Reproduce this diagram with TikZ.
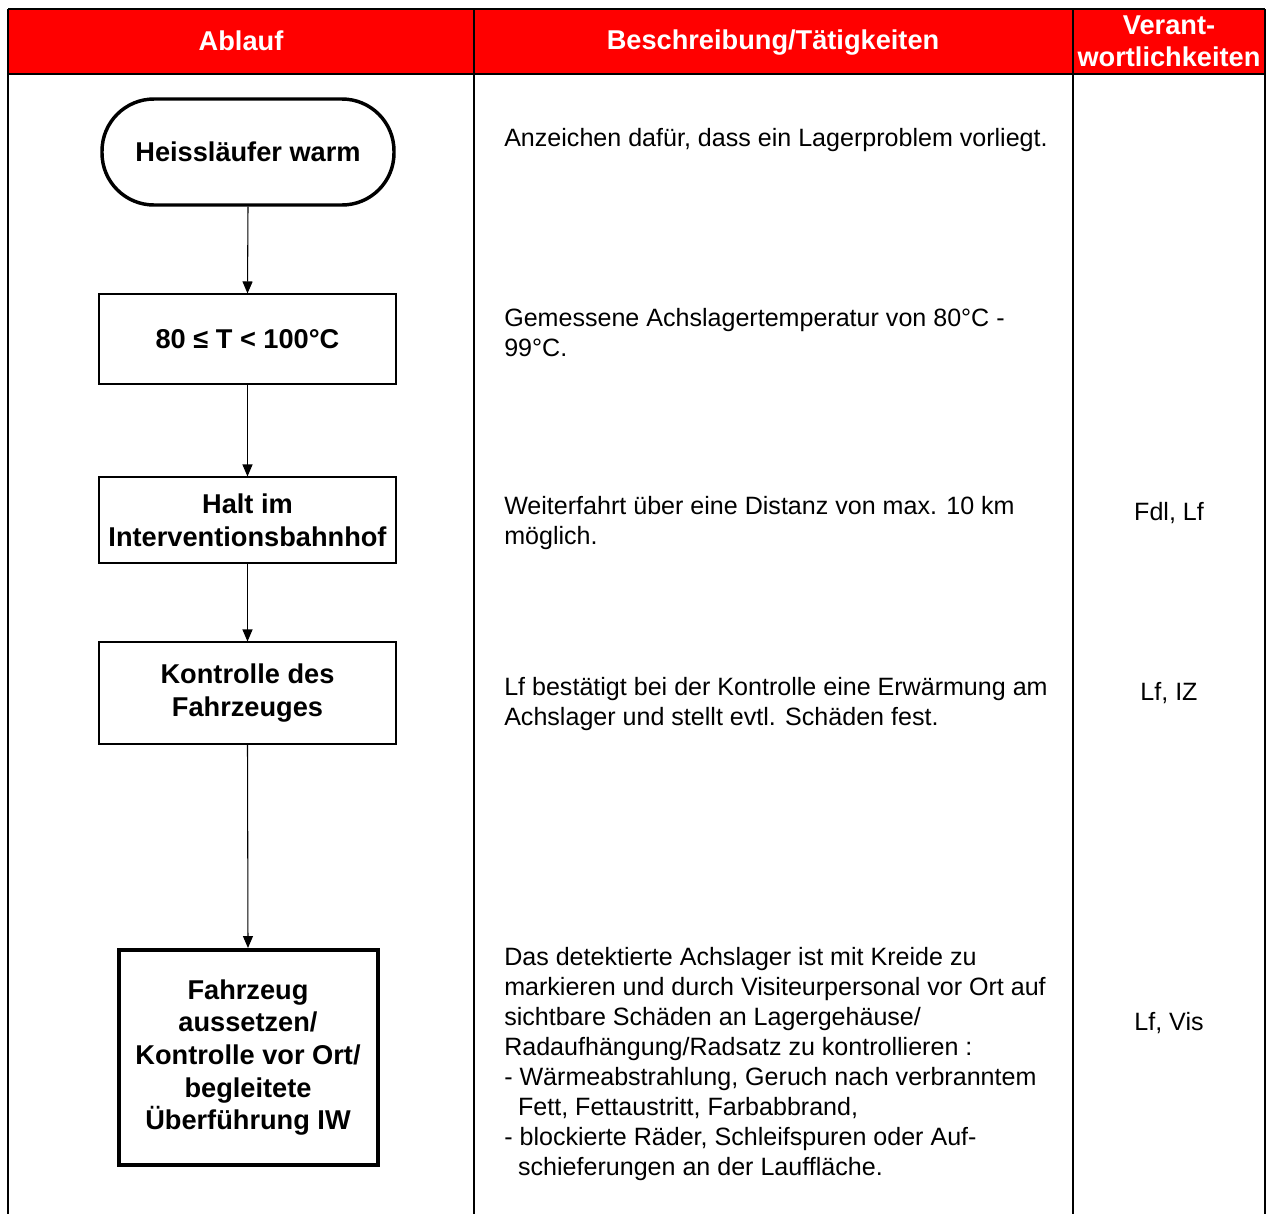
\documentclass[tikz,border=0pt]{standalone}
\usepackage{fontspec}
\setmainfont{Liberation Sans}
\usetikzlibrary{arrows.meta}
\begin{document}
\begin{tikzpicture}[x=0.75pt,y=-0.75pt,
  hdr/.style={text=white, font=\bfseries\fontsize{20.4}{24}\selectfont, align=center, inner sep=0pt},
  desc/.style={anchor=north west, inner sep=0pt, align=left, font=\fontsize{18.8}{22.5}\selectfont},
  resp/.style={inner sep=0pt, font=\fontsize{18.8}{22.5}\selectfont},
  stepbox/.style={draw, line width=0.8pt, align=center, inner sep=2pt,
    font=\bfseries\fontsize{20.4}{24.4}\selectfont, minimum width=222.75pt},
  termbox/.style={draw, line width=2.6pt, rounded corners=39pt, align=center,
    font=\bfseries\fontsize{20.4}{24.4}\selectfont, minimum width=219pt, minimum height=79.5pt},
  endbox/.style={draw, line width=3pt, align=center,
    font=\bfseries\fontsize{20.4}{24.4}\selectfont, minimum width=194.25pt, minimum height=161.25pt},
  arr/.style={line width=0.8pt, -{Triangle[width=7.5pt,length=9pt]}}
]
\useasboundingbox (0,0) rectangle (1266,1214);

% header band
\fill[red] (8,9) rectangle (1265,74);
\draw[line width=1.3pt] (8,9) -- (1265,9);
\draw[line width=1.3pt] (8,74) -- (1265,74);

% column rules
\draw[line width=1.1pt] (8,9) -- (8,1214);
\draw[line width=0.9pt] (474,9) -- (474,1214);
\draw[line width=0.9pt] (1073,9) -- (1073,1214);
\draw[line width=0.9pt] (1265,9) -- (1265,1214);

% header texts
\node[hdr] (h1) at (241,41) {Ablauf};
\node[hdr] (h2) at (773,43) {Beschreibung/Tätigkeiten};
\node[hdr] (h3) at (1169,41) {Verant-\\wortlichkeiten};

% flow chart
\node[termbox] (t0) at (248,152) {Heissläufer warm};
\node[stepbox, minimum height=67.5pt] (s1) at (247.5,339) {80 ≤ T < 100°C};
\node[stepbox, minimum height=64.5pt] (s2) at (247.5,520) {Halt im\\Interventionsbahnhof};
\node[stepbox, minimum height=76.5pt] (s3) at (247.5,693) {\raisebox{-1.5pt}{Kontrolle des}\\\raisebox{-1.5pt}{Fahrzeuges}};
\node[endbox] (s4) at (248,1057.5) {Fahrzeug\\aussetzen/\\Kontrolle vor Ort/\\begleitete\\Überführung IW};

\draw[arr] (t0.south) -- (s1.north);
\draw[arr] (s1.south) -- (s2.north);
\draw[arr] (s2.south) -- (s3.north);
\draw[arr] (s3.south) -- (s4.north);

% descriptions
\node[desc] (d0) at (504,128) {Anzeichen dafür, dass ein Lagerproblem vorliegt.};
\node[desc] (d1) at (504,308) {Gemessene Achslagertemperatur von 80°C -\\99°C.};
\node[desc] (d2) at (504,496) {Weiterfahrt über eine Distanz von max. 10 km\\möglich.};
\node[desc] (d3) at (504,677) {Lf bestätigt bei der Kontrolle eine Erwärmung am\\Achslager und stellt evtl. Schäden fest.};
\node[desc] (d4) at (504,947) {Das detektierte Achslager ist mit Kreide zu\\
markieren und durch Visiteurpersonal vor Ort auf\\
sichtbare Schäden an Lagergehäuse/\\
Radaufhängung/Radsatz zu kontrollieren :\\
- Wärmeabstrahlung, Geruch nach verbranntem\\
\hspace*{10.4pt}Fett, Fettaustritt, Farbabbrand,\\
- blockierte Räder, Schleifspuren oder Auf-\\
\hspace*{10.4pt}schieferungen an der Lauffläche.};

% responsibilities
\node[resp] (r2) at (1169,513) {Fdl, Lf};
\node[resp] (r3) at (1169,693) {Lf, IZ};
\node[resp] (r4) at (1169,1023) {Lf, Vis};
\end{tikzpicture}
\end{document}
